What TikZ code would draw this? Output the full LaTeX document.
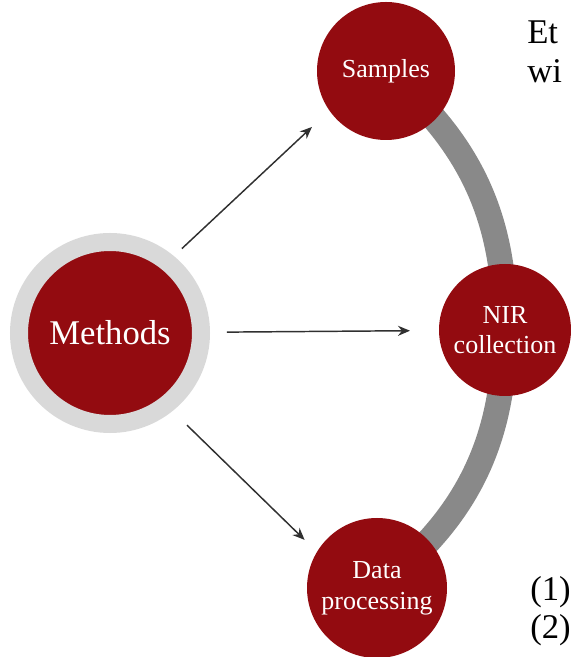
\documentclass[tikz,border=0pt]{standalone}
\usepackage{fontspec}
\setmainfont{Liberation Serif}
\usetikzlibrary{arrows.meta,backgrounds}

\definecolor{stepred}{HTML}{930B10}
\definecolor{ringgray}{HTML}{D9D9D9}
\definecolor{arcgray}{HTML}{898989}
\definecolor{arrowgray}{HTML}{303030}

\tikzset{
  stepnode/.style={circle, fill=stepred, text=white, inner sep=0pt, outer sep=0pt,
    align=center, font=\rmfamily\fontsize{19.5}{23}\selectfont},
  flowarrow/.style={-{Stealth[length=9pt,width=7.5pt]}, draw=arrowgray, line width=1.1pt},
  sidetext/.style={anchor=base west, inner sep=0pt, font=\rmfamily\fontsize{26}{30}\selectfont},
}

\begin{document}
\begin{tikzpicture}[x=0.75pt,y=0.75pt]

        \path[use as bounding box, clip] (0,0) rectangle (571,657);

        % Draw the main node with its gray ring
        \node[stepnode, minimum size=136.5pt, draw=ringgray, line width=13.5pt,
              font=\rmfamily\fontsize{26}{30}\selectfont] (methods) at (110,324) {Methods};

        % Draw the three steps
        \node[stepnode, minimum size=103.5pt] (samples) at (386,586) {Samples};
        \node[stepnode, minimum size=99pt] (nir) at (505,327) {NIR\\collection};
        \node[stepnode, minimum size=105pt] (data) at (377,69) {Data\\processing};

        % Draw the gray arc behind the steps
        \begin{scope}[on background layer]
        \draw[arcgray, line width=19pt] (samples.center) to[bend left=25] (nir.center)
              to[bend left=26] (data.center);
        \end{scope}

        % Draw the arrows
        \draw[flowarrow, shorten <=15pt, shorten >=18pt] (methods.51) -- (samples.215);
        \draw[flowarrow, shorten <=19.5pt, shorten >=21.75pt] (methods) -- (nir);
        \draw[flowarrow, shorten <=22pt, shorten >=13pt] (methods.-52) -- (data.149);

        % Text cut off at the right edge
        \node[sidetext] (et) at (527,613) {Et};
        \node[sidetext] (wi) at (527,574) {wi};
        \node[sidetext] (one) at (530,56) {(1)};
        \node[sidetext] (two) at (530,18) {(2)};

\end{tikzpicture}
\end{document}
